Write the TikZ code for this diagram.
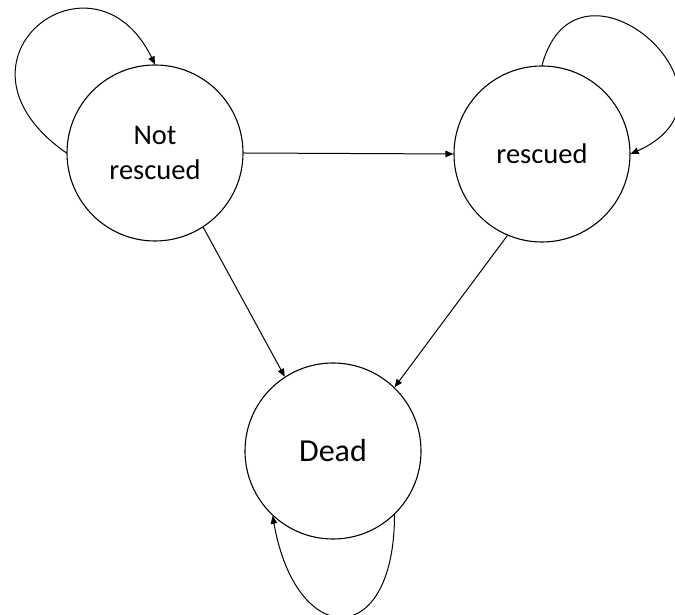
\documentclass[tikz,border=0pt]{standalone}
\usepackage{fontspec}
\setmainfont{Carlito}
\usetikzlibrary{arrows.meta}

\tikzset{
  state/.style={draw, circle, line width=1.1pt, minimum size=176pt, inner sep=0pt, align=center, font=\fontsize{28.5}{35}\selectfont},
  trans/.style={line width=1pt, -{Triangle[length=8pt,width=6.5pt]}}
}

\begin{document}
\begin{tikzpicture}[x=1pt,y=1pt]
        \useasboundingbox (0,0) rectangle (675,615);

        % Zustaende
        \node[state] (notres) at (155,462) {Not\\rescued};
        \node[state] (res) at (542,461) {rescued};
        \node[state, font=\fontsize{32}{38}\selectfont] (dead) at (333,164) {Dead};

        % Uebergaenge
        \draw[trans] (notres.east) -- (res.west);
        \draw[trans] (notres.-57) -- (dead.123);
        \draw[trans] (res.-113) -- (dead.46);

        % Schleifen
        \draw[trans] (notres.west) .. controls +(145:162) and +(116:140) .. (notres.north);
        \draw[trans] (res.north) .. controls +(75:135) and +(24:142) .. (res.east);
        \draw[trans] (dead.-46) .. controls +(-90:136) and +(-80:136) .. (dead.-133);
    \end{tikzpicture}
\end{document}
